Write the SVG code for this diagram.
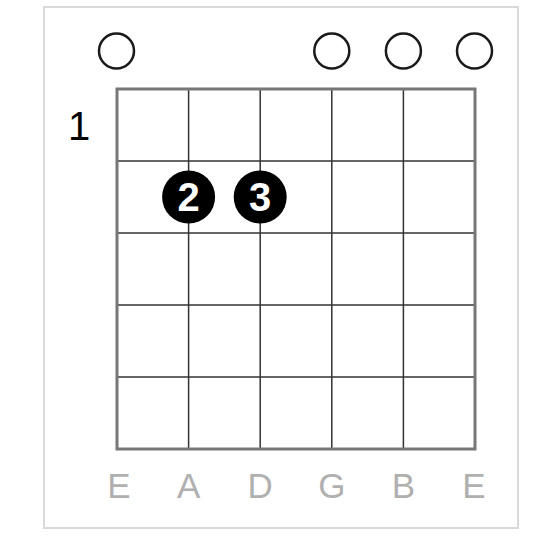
<svg xmlns="http://www.w3.org/2000/svg" width="559" height="546" viewBox="0 0 559 546">
<style>
.frame{fill:#fff;stroke:#d9d9d9;stroke-width:2}
.outer{fill:none;stroke:#777;stroke-width:3}
.line{stroke:#333;stroke-width:1.5}
.open{fill:none;stroke:#1a1a1a;stroke-width:2.5}
.dot{fill:#000}
.finger{font-family:"Liberation Sans",Arial,sans-serif;font-size:40px;font-weight:bold;fill:#fff;text-anchor:middle}
.str{font-family:"Liberation Sans",Arial,sans-serif;font-size:35px;fill:#b0b0b0;text-anchor:middle}
.fret{font-family:"Liberation Sans",Arial,sans-serif;font-size:40px;fill:#000;text-anchor:middle}
</style>
<rect width="559" height="546" fill="#fff"/>
<rect class="frame" x="44" y="7" width="474" height="521"/>
<g id="connectors">
<line class="line" x1="188.6" y1="89" x2="188.6" y2="449"/>
<line class="line" x1="260.2" y1="89" x2="260.2" y2="449"/>
<line class="line" x1="331.8" y1="89" x2="331.8" y2="449"/>
<line class="line" x1="403.4" y1="89" x2="403.4" y2="449"/>
<line class="line" x1="117" y1="161" x2="475" y2="161"/>
<line class="line" x1="117" y1="233" x2="475" y2="233"/>
<line class="line" x1="117" y1="305" x2="475" y2="305"/>
<line class="line" x1="117" y1="377" x2="475" y2="377"/>
<rect class="outer" x="117" y="89" width="358" height="360"/>
</g>
<g id="fret-number"><text class="fret" x="79" y="140">1</text></g>
<g id="open-E6"><circle class="open" cx="116.5" cy="51" r="17.5"/></g>
<g id="open-G"><circle class="open" cx="331.8" cy="51" r="17.5"/></g>
<g id="open-B"><circle class="open" cx="403.4" cy="51" r="17.5"/></g>
<g id="open-E1"><circle class="open" cx="474.5" cy="51" r="17.5"/></g>
<g id="finger-2"><circle class="dot" cx="188.6" cy="197" r="26.5"/><text class="finger" x="188.6" y="211">2</text></g>
<g id="finger-3"><circle class="dot" cx="260.2" cy="197" r="26.5"/><text class="finger" x="260.2" y="211">3</text></g>
<g id="string-labels">
<text class="str" x="119" y="498">E</text>
<text class="str" x="188.6" y="498">A</text>
<text class="str" x="260.2" y="498">D</text>
<text class="str" x="331.8" y="498">G</text>
<text class="str" x="403.4" y="498">B</text>
<text class="str" x="474" y="498">E</text>
</g>
</svg>
